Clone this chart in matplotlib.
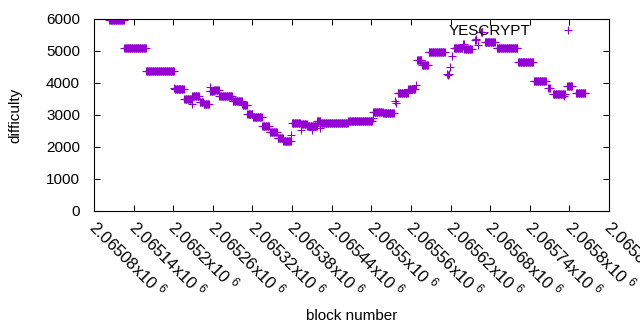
import numpy as np
import matplotlib
matplotlib.use("Agg")
import matplotlib.pyplot as plt
from matplotlib.transforms import ScaledTranslation

BASE = 2065080

# runs of constant difficulty: first block, last block (offset from BASE), difficulty
run_first = [23, 46, 79, 122, 137, 149, 160, 166, 175, 182, 190, 210, 225, 232, 241,
             255, 266, 278, 287, 300, 314, 323, 338, 344, 353, 385, 423, 438, 460, 476,
             489, 497, 507, 545, 561, 592, 610, 642, 666, 695, 717, 730]
run_last = [45, 78, 121, 136, 148, 159, 165, 174, 181, 189, 209, 224, 231, 240, 254,
            265, 277, 286, 298, 312, 322, 337, 343, 352, 384, 421, 437, 454, 475, 486,
            496, 506, 531, 558, 572, 607, 641, 665, 684, 713, 724, 744]
run_diff = [5960, 5084, 4365, 3800, 3490, 3594, 3396, 3334, 3745, 3790, 3594, 3437, 3303,
            3022, 2928, 2656, 2459, 2291, 2178, 2740, 2719, 2656, 2822, 2740, 2740, 2803,
            3103, 3072, 3678, 3803, 4719, 4562, 4959, 5084, 5053, 5272, 5084, 4647, 4062,
            3666, 3906, 3690]

# single blocks off the runs
pt_block = [121, 148, 176, 224, 299, 313, 330, 342, 422, 456, 457, 487, 535, 536, 537,
            539, 542, 559, 560, 577, 578, 579, 581, 586, 587, 588, 688, 689, 690, 712]
pt_diff = [3830, 3334, 3865, 3334, 2365, 2530, 2530, 2590, 2900, 3428, 3380, 3937, 4281,
           4250, 4281, 4510, 4844, 5209, 5209, 5344, 5370, 5344, 5187, 5584, 5600, 5584,
           3834, 3834, 3834, 3603]

xtick_vals = np.arange(2065080, 2065861, 60)

blocks = []
diffs = []
for a, b, d in zip(run_first, run_last, run_diff):
    for n in range(a, b + 1):
        blocks.append(BASE + n)
        diffs.append(d)
for n, d in zip(pt_block, pt_diff):
    blocks.append(BASE + n)
    diffs.append(d)

plt.rcParams["font.family"] = ["Liberation Sans", "DejaVu Sans"]
plt.rcParams["mathtext.default"] = "regular"
plt.rcParams["font.size"] = 11

fig = plt.figure(figsize=(6.4, 3.3), dpi=100)
ax = fig.add_axes([94 / 640, 1 - 211 / 330, 515 / 640, 192 / 330])

ax.plot(blocks, diffs, linestyle="none", marker="+", markersize=5.2,
        markeredgewidth=0.8, color="#9400d3", label="YESCRYPT")

ax.set_xlim(2065080, 2065860)
ax.set_ylim(0, 6000)
ax.set_yticks(range(0, 6001, 1000))
ax.set_xticks(xtick_vals)
ax.set_xticklabels([f"{v / 1e6:.6g}x10 $^{{6}}$" for v in xtick_vals], fontsize=12,
                   rotation=-45, ha="left", va="top", rotation_mode="anchor")
ax.tick_params(direction="in", length=4.5, width=0.75, top=True, right=True)
ax.tick_params(axis="y", pad=10)
ax.tick_params(axis="x", pad=3.5)
shift = ScaledTranslation(6 / 100, 0, fig.dpi_scale_trans)
for lab in ax.get_xticklabels():
    lab.set_transform(lab.get_transform() + shift)
for s in ax.spines.values():
    s.set_linewidth(0.8)

ax.set_xlabel("block number")
ax.set_ylabel("difficulty")
ax.xaxis.set_label_coords(0.5, -0.51)
ax.yaxis.set_label_coords(-0.14, 0.5)

ax.legend(loc="center right", bbox_to_anchor=(0.967, 0.937), markerfirst=False,
          frameon=False, numpoints=1, handlelength=3.2, handletextpad=0.8,
          borderpad=0, borderaxespad=0, fontsize=11)

fig.savefig("out.png", dpi=100)
